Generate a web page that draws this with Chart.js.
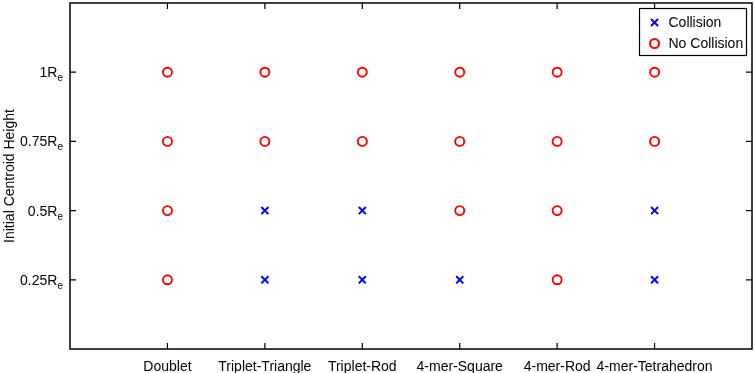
<!DOCTYPE html>
<html>
<head>
<meta charset="utf-8">
<script src="https://cdn.jsdelivr.net/npm/chart.js@4.4.0/dist/chart.umd.min.js"></script>
<style>
  html, body { margin: 0; padding: 0; background: #fff; }
  #wrap { width: 755px; height: 373px; }
</style>
</head>
<body>
<div id="wrap"><canvas id="collisionChart"></canvas></div>
<script>
// categories on the x axis (shape of the cluster)
const categories = ['Doublet', 'Triplet-Triangle', 'Triplet-Rod', '4-mer-Square', '4-mer-Rod', '4-mer-Tetrahedron'];
// initial centroid heights, in units of Re
const heightTicks = [0.25, 0.5, 0.75, 1];

// Collision cases (blue x)
const collisionShape  = ['Triplet-Triangle', 'Triplet-Triangle', 'Triplet-Rod', 'Triplet-Rod', '4-mer-Square', '4-mer-Tetrahedron', '4-mer-Tetrahedron'];
const collisionHeight = [0.5, 0.25, 0.5, 0.25, 0.25, 0.5, 0.25];

// No collision cases (red o)
const noCollisionShape  = ['Doublet', 'Doublet', 'Doublet', 'Doublet',
                           'Triplet-Triangle', 'Triplet-Triangle',
                           'Triplet-Rod', 'Triplet-Rod',
                           '4-mer-Square', '4-mer-Square', '4-mer-Square',
                           '4-mer-Rod', '4-mer-Rod', '4-mer-Rod', '4-mer-Rod',
                           '4-mer-Tetrahedron', '4-mer-Tetrahedron'];
const noCollisionHeight = [1, 0.75, 0.5, 0.25,
                           1, 0.75,
                           1, 0.75,
                           1, 0.75, 0.5,
                           1, 0.75, 0.5, 0.25,
                           1, 0.75];

const toPoints = (shapes, heights) => shapes.map((s, i) => ({ x: categories.indexOf(s), y: heights[i] }));

const BLUE = '#0000ff';
const RED = '#ff0000';
const FONT = "'Liberation Sans', Arial, sans-serif";
Chart.defaults.font.family = FONT;
Chart.defaults.font.size = 14;
Chart.defaults.color = '#000';

// box, inward ticks, subscripted y labels and the legend
const framePlugin = {
  id: 'frame',
  afterDraw(chart) {
    const ctx = chart.ctx;
    const a = chart.chartArea;
    const xs = chart.scales.x, ys = chart.scales.y;
    const tl = 6;
    ctx.save();
    ctx.strokeStyle = '#000';
    ctx.lineWidth = 1.5;
    ctx.strokeRect(a.left, a.top, a.right - a.left, a.bottom - a.top);
    ctx.lineWidth = 1.2;
    ctx.beginPath();
    categories.forEach((c, i) => {
      const px = xs.getPixelForValue(i);
      ctx.moveTo(px, a.bottom); ctx.lineTo(px, a.bottom - tl);
      ctx.moveTo(px, a.top); ctx.lineTo(px, a.top + tl);
    });
    heightTicks.forEach(v => {
      const py = ys.getPixelForValue(v);
      ctx.moveTo(a.left, py); ctx.lineTo(a.left + tl, py);
      ctx.moveTo(a.right, py); ctx.lineTo(a.right - tl, py);
    });
    ctx.stroke();

    // y tick labels: "0.75R" with subscript e
    ctx.fillStyle = '#000';
    ctx.textBaseline = 'alphabetic';
    heightTicks.forEach(v => {
      const py = ys.getPixelForValue(v);
      const main = (v === 1 ? '1' : String(v)) + 'R';
      ctx.font = '14px ' + FONT;
      const wm = ctx.measureText(main).width;
      ctx.font = '10px ' + FONT;
      const ws = ctx.measureText('e').width;
      const right = a.left - 7;
      ctx.font = '14px ' + FONT;
      ctx.fillText(main, right - ws - wm, py + 5);
      ctx.font = '10px ' + FONT;
      ctx.fillText('e', right - ws, py + 9);
    });

    // legend
    const lx = 639.5, ly = 8.5, lw = 107, lh = 47;
    ctx.fillStyle = '#fff';
    ctx.fillRect(lx, ly, lw, lh);
    ctx.strokeStyle = '#000';
    ctx.lineWidth = 1.2;
    ctx.strokeRect(lx, ly, lw, lh);
    chart.data.datasets.forEach((ds, i) => {
      const cy = ly + 14 + i * 21;
      const cx = lx + 15;
      ctx.strokeStyle = ds.borderColor;
      ctx.lineWidth = 2;
      ctx.beginPath();
      if (ds.pointStyle === 'crossRot') {
        const r = 3.5;
        ctx.moveTo(cx - r, cy - r); ctx.lineTo(cx + r, cy + r);
        ctx.moveTo(cx - r, cy + r); ctx.lineTo(cx + r, cy - r);
      } else {
        ctx.arc(cx, cy, 4.5, 0, Math.PI * 2);
      }
      ctx.stroke();
      ctx.fillStyle = '#000';
      ctx.font = '14px ' + FONT;
      ctx.textBaseline = 'middle';
      ctx.fillText(ds.label, lx + 29, cy + 0.5);
    });
    ctx.restore();
  }
};

const data = {
  datasets: [{
    label: 'Collision',
    data: toPoints(collisionShape, collisionHeight),
    pointStyle: 'crossRot',
    pointRadius: 5,
    pointBorderWidth: 2,
    borderColor: BLUE,
    backgroundColor: BLUE,
    showLine: false
  }, {
    label: 'No Collision',
    data: toPoints(noCollisionShape, noCollisionHeight),
    pointStyle: 'circle',
    pointRadius: 4.5,
    pointBorderWidth: 1.9,
    borderColor: RED,
    backgroundColor: 'rgba(0,0,0,0)',
    showLine: false
  }]
};

const options = {
  responsive: true,
  maintainAspectRatio: false,
  animation: false,
  layout: { autoPadding: false, padding: { top: 3, right: 3, left: 0, bottom: 0 } },
  plugins: {
    legend: { display: false },
    tooltip: { enabled: false }
  },
  scales: {
    x: {
      type: 'linear',
      min: -1,
      max: 6,
      afterBuildTicks: s => { s.ticks = categories.map((c, i) => ({ value: i })); },
      afterFit: s => { s.height = 24; },
      grid: { display: false, tickLength: 0 },
      border: { display: false },
      ticks: {
        autoSkip: false,
        maxRotation: 0,
        padding: 10,
        callback: v => categories[v]
      }
    },
    y: {
      type: 'linear',
      min: 0,
      max: 1.25,
      afterBuildTicks: s => { s.ticks = heightTicks.map(v => ({ value: v })); },
      afterFit: s => { s.width = 70; },
      grid: { display: false },
      border: { display: false },
      ticks: { display: false },
      title: {
        display: true,
        text: 'Initial Centroid Height',
        padding: { top: 2, bottom: 0 }
      }
    }
  }
};

const ctxEl = document.getElementById('collisionChart');
const chart = new Chart(ctxEl, {
  type: 'scatter',
  data: data,
  options: options,
  plugins: [framePlugin]
});
</script>
</body>
</html>
